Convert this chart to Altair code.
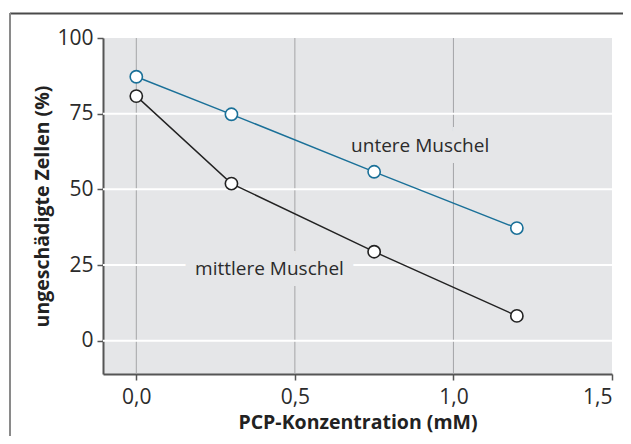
import altair as alt
import pandas as pd

# Data
conc = [0.0, 0.3, 0.75, 1.2]
untere = [87.2, 74.8, 55.8, 37.2]
mittlere = [80.8, 51.9, 29.4, 8.2]
series_names = ["untere Muschel", "mittlere Muschel"]
series_colors = ["#1a7098", "#222222"]

label_text = ["untere Muschel", "mittlere Muschel"]
label_x = [0.895, 0.42]
label_y = [64.3, 23.8]

x_ticks = [0.0, 0.5, 1.0, 1.5]
y_ticks = [0, 25, 50, 75, 100]
x_grid = [0.0, 0.5, 1.0]
y_grid = [0, 25, 50, 75]

FONT = "Open Sans"
BG = "#e5e6e8"

rows = []
for name, vals in zip(series_names, [untere, mittlere]):
    for c, v in zip(conc, vals):
        rows.append({"conc": c, "val": v, "serie": name})
df = pd.DataFrame(rows)
labels = pd.DataFrame({"text": label_text, "x": label_x, "y": label_y})

xs = alt.Scale(domain=[-0.105, 1.5], nice=False, zero=False)
ys = alt.Scale(domain=[-11, 100], nice=False, zero=False)
color = alt.Scale(domain=series_names, range=series_colors)

vgrid = alt.Chart(pd.DataFrame({"x": x_grid})).mark_rule(color="#a4a5a7", strokeWidth=1).encode(
    x=alt.X("x:Q", scale=xs))
hgrid = alt.Chart(pd.DataFrame({"y": y_grid})).mark_rule(color="white", strokeWidth=2).encode(
    y=alt.Y("y:Q", scale=ys))

base = alt.Chart(df).encode(
    x=alt.X("conc:Q", scale=xs,
            axis=alt.Axis(values=x_ticks, title="PCP-Konzentration (mM)", labelPadding=6,
                          titlePadding=6,
                          labelExpr="replace(format(datum.value, '.1f'), '.', ',')")),
    y=alt.Y("val:Q", scale=ys,
            axis=alt.Axis(values=y_ticks, title="ungeschädigte Zellen (%)", labelPadding=4,
                          titlePadding=4)),
    color=alt.Color("serie:N", scale=color, legend=None),
)
lines = base.mark_line(strokeWidth=1.4)
points = base.mark_point(filled=False, fill="white", fillOpacity=1, size=150, strokeWidth=1.6, opacity=1)

lbl_bg = alt.Chart(labels).mark_text(font=FONT, fontSize=19, stroke=BG, strokeWidth=22,
                                     fill=BG).encode(
    x=alt.X("x:Q", scale=xs), y=alt.Y("y:Q", scale=ys), text="text:N")
lbl = alt.Chart(labels).mark_text(font=FONT, fontSize=19, color="#2b2b2b").encode(
    x=alt.X("x:Q", scale=xs), y=alt.Y("y:Q", scale=ys), text="text:N")

one = alt.Data(values=[{}])
frame_top = alt.Chart(one).mark_rule(color="#4a4a4a", strokeWidth=2, clip=False).encode(
    x=alt.value(-93), x2=alt.value(540), y=alt.value(-24.5))
frame_left = alt.Chart(one).mark_rule(color="#8a8a8a", strokeWidth=2, clip=False).encode(
    x=alt.value(-93), y=alt.value(-25), y2=alt.value(420))

chart = alt.layer(vgrid, hgrid, lbl_bg, lbl, lines, points, frame_top, frame_left).properties(
    width=509, height=336,
    autosize=alt.AutoSizeParams(type="none"),
    padding={"left": 95, "top": 30, "right": 11, "bottom": 62},
    background="white",
).configure_view(
    fill=BG, stroke=None
).configure_axis(
    grid=False,
    domainColor="#555555", domainWidth=2,
    tickColor="#555555", tickSize=6, tickWidth=1.5,
    labelFont=FONT, labelFontSize=21, labelColor="#2b2b2b",
    titleFont=FONT, titleFontSize=19.5, titleFontWeight="bold", titleColor="#222222",
)

chart.save("out.html", embed_options={"renderer": "svg", "actions": False})
